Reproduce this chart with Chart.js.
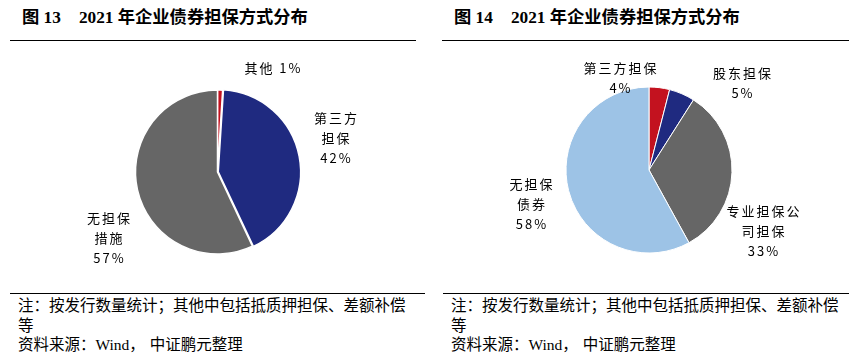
<!DOCTYPE html>
<html><head><meta charset="utf-8">
<script src="https://cdn.jsdelivr.net/npm/chart.js@4.4.1/dist/chart.umd.min.js"></script>
<style>
html,body{margin:0;padding:0;background:#fff;}
body{width:851px;height:360px;position:relative;overflow:hidden;font-family:"Noto Sans CJK SC",sans-serif;color:#000;}
.title{position:absolute;top:6px;font-family:"Liberation Serif","Noto Sans CJK SC",serif;font-weight:bold;font-size:17.3px;line-height:24px;white-space:nowrap;}
.title .gap{display:inline-block;width:18px;}
.rule{position:absolute;height:1px;background:#000;}
.note{position:absolute;top:295px;font-size:15.5px;line-height:19.5px;white-space:nowrap;}
.note .w{font-family:"Liberation Serif",serif;}
.note .sp{display:inline-block;width:5px;}
canvas{position:absolute;top:42px;}
</style></head>
<body>
<div class="title" style="left:22px">图 13<span class="gap"></span>2021 年企业债券担保方式分布</div>
<div class="title" style="left:454px">图 14<span class="gap"></span>2021 年企业债券担保方式分布</div>
<div class="rule" style="left:10px;width:406px;top:40px"></div>
<div class="rule" style="left:442px;width:407px;top:40px"></div>
<canvas id="c1" width="415" height="250" style="left:10px"></canvas>
<canvas id="c2" width="409" height="250" style="left:442px"></canvas>
<div class="rule" style="left:10px;width:415px;top:293px"></div>
<div class="rule" style="left:443px;width:406px;top:293px"></div>
<div class="note" style="left:18px">注：按发行数量统计；其他中包括抵质押担保、差额补偿<br>等<br>资料来源：<span class="w">Wind</span>，<span class="sp"></span>中证鹏元整理</div>
<div class="note" style="left:451px">注：按发行数量统计；其他中包括抵质押担保、差额补偿<br>等<br>资料来源：<span class="w">Wind</span>，<span class="sp"></span>中证鹏元整理</div>
<script>
// ---- data ----
const leftCategories = ['其他', '第三方担保', '无担保措施'];
const leftValues = [1, 42, 57];
const rightCategories = ['第三方担保', '股东担保', '专业担保公司担保', '无担保债券'];
const rightValues = [4, 5, 33, 58];

// ---- label layout (how names wrap, where blocks sit relative to pie centre) ----
const leftWrap = [['其他 '], ['第三方', '担保'], ['无担保', '措施']];
const leftInlinePct = [true, false, false];
const leftLabelOffsets = [[55, -104], [118, -34], [-109, 66]];
const rightWrap = [['第三方担保'], ['股东担保'], ['专业担保公', '司担保'], ['无担保', '债券']];
const rightInlinePct = [false, false, false, false];
const rightLabelOffsets = [[-29, -92], [93, -87], [114, 61], [-118, 34]];

const RED = '#C3121F', NAVY = '#1F2A80', GRAY = '#666666', LBLUE = '#9DC3E6';

function buildLines(wrap, inline, values) {
  return wrap.map((w, i) => {
    const pct = values[i] + '%';
    if (inline[i]) { const l = w.slice(); l[l.length - 1] = l[l.length - 1] + pct; return l; }
    return w.concat([pct]);
  });
}

const sliceLabels = {
  id: 'sliceLabels',
  afterDatasetsDraw(chart, args, opts) {
    const ctx = chart.ctx;
    const arcs = chart.getDatasetMeta(0).data;
    ctx.save();
    ctx.font = '13px "Noto Sans CJK SC", sans-serif';
    ctx.fillStyle = '#000';
    ctx.textAlign = 'center';
    ctx.textBaseline = 'middle';
    if ('letterSpacing' in ctx) ctx.letterSpacing = '2px';
    arcs.forEach((arc, i) => {
      const lines = opts.lines[i];
      const [dx, dy] = opts.offsets[i];
      const n = lines.length;
      lines.forEach((t, j) => ctx.fillText(t, arc.x + dx + 1, arc.y + dy + (j - (n - 1) / 2) * 20));
    });
    ctx.restore();
  }
};

function makePie(id, cats, vals, colors, offsets, radius, padding, lines, labelOffsets, bw) {
  new Chart(document.getElementById(id), {
    type: 'pie',
    data: { labels: cats, datasets: [{ data: vals, backgroundColor: colors, borderColor: '#fff', borderWidth: bw, offset: offsets }] },
    options: {
      responsive: false, animation: false, radius: radius,
      layout: { padding: padding },
      plugins: { legend: { display: false }, tooltip: { enabled: false },
        sliceLabels: { lines: lines, offsets: labelOffsets } }
    },
    plugins: [sliceLabels]
  });
}

makePie('c1', leftCategories, leftValues, [RED, NAVY, GRAY], [0, 3, 0], 82,
  { top: 10 }, buildLines(leftWrap, leftInlinePct, leftValues), leftLabelOffsets, 1.5);
makePie('c2', rightCategories, rightValues, [RED, NAVY, GRAY, LBLUE], [0, 0, 0, 0], 83,
  { top: 6, left: 5 }, buildLines(rightWrap, rightInlinePct, rightValues), rightLabelOffsets, 1);
</script>
</body></html>
